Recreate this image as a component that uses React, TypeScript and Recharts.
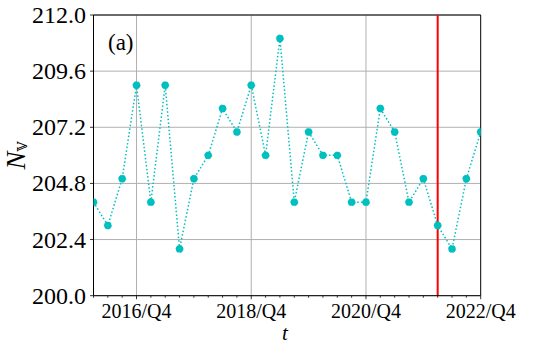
import { LineChart, Line, XAxis, YAxis, CartesianGrid, ReferenceLine } from 'recharts';

const quarters = [
  '2016/Q1', '2016/Q2', '2016/Q3', '2016/Q4',
  '2017/Q1', '2017/Q2', '2017/Q3', '2017/Q4',
  '2018/Q1', '2018/Q2', '2018/Q3', '2018/Q4',
  '2019/Q1', '2019/Q2', '2019/Q3', '2019/Q4',
  '2020/Q1', '2020/Q2', '2020/Q3', '2020/Q4',
  '2021/Q1', '2021/Q2', '2021/Q3', '2021/Q4',
  '2022/Q1', '2022/Q2', '2022/Q3', '2022/Q4',
];
const counts = [
  204, 203, 205, 209, 204, 209, 202, 205, 206, 208, 207, 209, 206, 211,
  204, 207, 206, 206, 204, 204, 208, 207, 204, 205, 203, 202, 205, 207,
];
const majorQuarters = ['2016/Q4', '2018/Q4', '2020/Q4', '2022/Q4'];
const yTicks = [200, 202.4, 204.8, 207.2, 209.6, 212];
const cutoff = '2022/Q1';

const data = quarters.map((q, i) => ({ i, q, v: counts[i] }));
const majorIdx = majorQuarters.map(q => quarters.indexOf(q));
const FONT = '"Liberation Serif", "DejaVu Serif", serif';

function XTick({ x, y, payload }: { x?: number; y?: number; payload?: { value: number } }) {
  const idx = payload?.value ?? 0;
  const major = majorIdx.includes(idx);
  return (
    <g>
      <line x1={x} x2={x} y1={y} y2={(y ?? 0) + (major ? 3.5 : 2)} stroke="#000" strokeWidth={0.8} />
      {major && (
        <text x={x} y={(y ?? 0) + 22} textAnchor="middle" fontFamily={FONT} fontSize={20} fill="#000">
          {quarters[idx]}
        </text>
      )}
    </g>
  );
}

function YTick({ x, y, payload }: { x?: number; y?: number; payload?: { value: number } }) {
  const v = payload?.value ?? 0;
  return (
    <g>
      <line x1={x} x2={(x ?? 0) - 3.5} y1={y} y2={y} stroke="#000" strokeWidth={0.8} />
      <text x={(x ?? 0) - 7.5} y={(y ?? 0) + 8} textAnchor="end" fontFamily={FONT} fontSize={24} fill="#000">
        {v.toFixed(1)}
      </text>
    </g>
  );
}

export default function App() {
  return (
    <div style={{ width: 533, height: 351 }}>
      <style>{'body{margin:0}'}</style>
      <LineChart width={533} height={351} data={data} margin={{ top: 15, right: 52.3, left: 0, bottom: 0 }}>
        <CartesianGrid vertical={false} stroke="#b0b0b0" strokeWidth={1} />
        {majorIdx.slice(0, 3).map(i => (
          <ReferenceLine key={i} x={i} stroke="#b0b0b0" strokeWidth={1} />
        ))}
        <XAxis
          dataKey="i"
          type="number"
          domain={[0, quarters.length - 1]}
          ticks={data.map(d => d.i)}
          interval={0}
          allowDataOverflow
          height={55.3}
          tickSize={0}
          tickMargin={0}
          tickLine={false}
          axisLine={{ stroke: '#000', strokeWidth: 1 }}
          tick={<XTick />}
          label={{
            content: () => (
              <text x={285} y={340} textAnchor="middle" fontFamily={FONT} fontStyle="italic" fontSize={21} fill="#000">t</text>
            ),
          }}
        />
        <YAxis
          type="number"
          domain={[200, 212]}
          ticks={yTicks}
          interval={0}
          allowDataOverflow
          width={93.5}
          tickSize={0}
          tickMargin={0}
          tickLine={false}
          axisLine={{ stroke: '#000', strokeWidth: 1 }}
          tick={<YTick />}
          label={{
            content: () => (
              <text transform="rotate(-90)" x={-155.5} y={25} textAnchor="middle" fontFamily={FONT} fontStyle="italic" fontSize={27} fill="#000">
                N<tspan fontStyle="normal" fontSize={13} dy={2} fontFamily='"DejaVu Serif", "DejaVu Sans", serif'>𝕍</tspan>
              </text>
            ),
          }}
        />
        <ReferenceLine y={212} stroke="#000" strokeWidth={1} />
        <ReferenceLine x={quarters.length - 1} stroke="#000" strokeWidth={1} />
        <ReferenceLine x={quarters.indexOf(cutoff)} stroke="#ff0000" strokeWidth={2} />
        <Line
          dataKey="v"
          stroke="#00bfbf"
          strokeWidth={1.5}
          strokeDasharray="1.5 2.2"
          dot={{ r: 3.7, fill: '#00bfbf', stroke: '#00bfbf', strokeWidth: 0.5 }}
          activeDot={false}
          isAnimationActive={false}
        />
        <text x={108} y={50} fontFamily={FONT} fontSize={23} fill="#000">(a)</text>
      </LineChart>
    </div>
  );
}
